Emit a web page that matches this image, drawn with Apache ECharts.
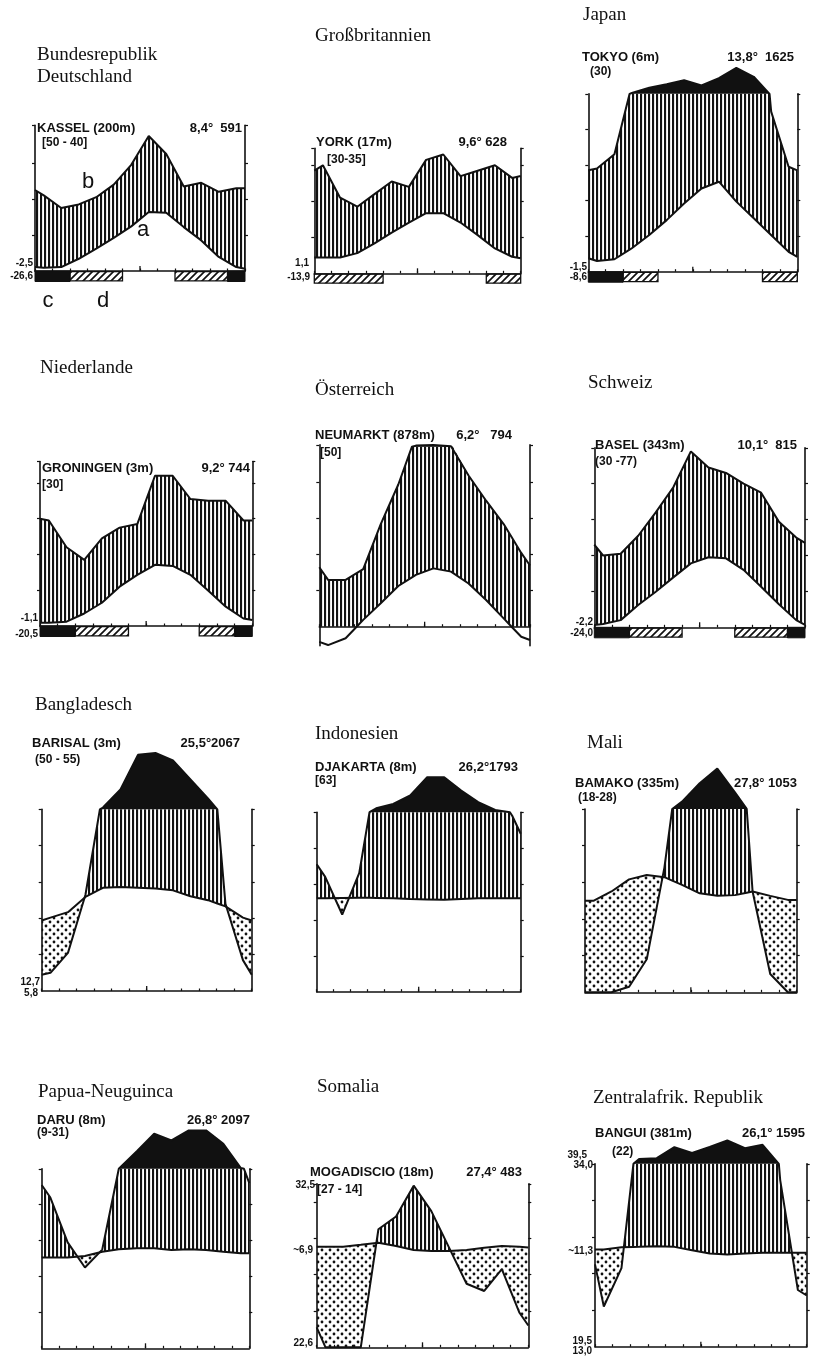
<!DOCTYPE html>
<html><head><meta charset="utf-8">
<script src="https://cdn.jsdelivr.net/npm/echarts@6/dist/echarts.min.js"></script>
<style>html,body{margin:0;padding:0;background:#fff}#c{width:813px;height:1360px}</style>
</head><body><div id="c"></div>
<script>
// ================= DATA (diagram order of months) =================
const countryNames = [["Bundesrepublik","Deutschland"],["Großbritannien"],["Japan"],["Niederlande"],["Österreich"],["Schweiz"],["Bangladesch"],["Indonesien"],["Mali"],["Papua-Neuguinca"],["Somalia"],["Zentralafrik. Republik"]];
const stationNames = ["KASSEL (200m)","YORK (17m)","TOKYO (6m)","GRONINGEN (3m)","NEUMARKT (878m)","BASEL (343m)","BARISAL (3m)","DJAKARTA (8m)","BAMAKO (335m)","DARU (8m)","MOGADISCIO (18m)","BANGUI (381m)"];
const yearSpans = ["[50 - 40]","[30-35]","(30)","[30]","[50]","(30 -77)","(50 - 55)","[63]","(18-28)","(9-31)","[27 - 14]","(22)"];
const annualMeans = ["8,4°","9,6°","13,8°","9,2°","6,2°","10,1°","25,5°","26,2°","27,8°","26,8°","27,4°","26,1°"];
const annualSums = ["591","628","1625","744","794","815","2067","1793","1053","2097","483","1595"];

// temperature (°C) and precipitation (mm) per month; edges = [left, right] ends of the drawn curves
const kasselT = [0.9,1.1,3.4,6.2,9.2,12.4,16.4,16.2,12.2,8.5,3.9,1.1];
const kasselP = [42,35,37,41,48,59,75,65,47,49,44,46];
const kasselTEdge = [1.1,0.6], kasselPEdge = [45,46];
const kasselFrostBlack = [[0,2],[11,12]], kasselFrostHatch = [[2,5],[8,11]];
const kasselSide = ["-2,5","-26,6"];

const yorkT = [4.4,4.4,5.6,8.3,11.3,14.1,16.7,16.7,14.1,10.6,6.9,4.6];
const yorkP = [60,42,37,44,51,48,63,66,54,57,60,53];
const yorkTEdge = [4.4,4.2], yorkPEdge = [57,54];
const yorkFrostBlack = [], yorkFrostHatch = [[0,4],[10,12]];
const yorkSide = ["1,1","-13,9"];

const tokyoT = [3.0,3.5,6.6,10.3,14.5,19.2,23.4,25.3,19.7,15.0,10.3,5.6];
const tokyoP = [58,66,105,134,154,177,147,188,246,196,90,59];
const tokyoTEdge = [3.8,4.2], tokyoPEdge = [57,57];
const tokyoFrostBlack = [[0,2]], tokyoFrostHatch = [[2,4],[10,12]];
const tokyoSide = ["-1,5","-8,6"];

const groningenT = [0.9,1.2,3.5,6.5,11.0,14.3,17.1,16.8,14.3,9.9,5.4,2.1];
const groningenP = [59,44,37,49,55,57,84,84,71,70,70,59];
const groningenTEdge = [0.9,1.7], groningenPEdge = [60,59];
const groningenFrostBlack = [[0,2],[11,12]], groningenFrostHatch = [[2,5],[9,11]];
const groningenSide = ["-1,1","-20,5"];

const neumarktT = [-5.1,-3.2,1.9,6.5,11.3,14.4,16.2,15.3,12.0,7.4,2.3,-2.8];
const neumarktP = [26,26,32,57,79,106,110,102,84,70,57,41];
const neumarktTEdge = [-4.2,-3.7], neumarktPEdge = [33,34];
const neumarktFrostBlack = [], neumarktFrostHatch = [];
const neumarktSide = [];

const baselT = [0.9,2.0,6.2,9.9,13.9,17.8,19.5,19.2,16.0,11.3,6.5,2.0];
const baselP = [40,41,51,64,78,98,89,86,80,75,59,50];
const baselTEdge = [0.65,0.65], baselPEdge = [46,47];
const baselFrostBlack = [[0,2],[11,12]], baselFrostHatch = [[2,5],[8,11]];
const baselSide = ["-2,2","-24,0"];

const barisalT = [20.2,21.7,25.9,28.4,28.6,28.4,28.2,27.7,26.1,25.0,23.3,20.2];
const barisalP = [10,21,53,110,210,400,410,370,265,160,48,17];
const barisalTEdge = [19.4,19.4], barisalPEdge = [9,9];
const barisalFrostBlack = [], barisalFrostHatch = [];
const barisalSide = ["12,7","5,8"];

const djakartaT = [26.0,26.1,26.2,26.1,26.0,25.8,25.7,25.6,25.8,26.0,26.0,26.0];
const djakartaP = [64,43,66,122,146,193,295,295,221,156,113,98];
const djakartaTEdge = [26.0,26.0], djakartaPEdge = [71,88];
const djakartaFrostBlack = [], djakartaFrostHatch = [];
const djakartaSide = [];

const bamakoT = [25.0,27.5,30.8,32.0,31.4,29.3,27.0,26.3,26.5,27.5,26.3,25.2];
const bamakoP = [0,0,3,18,68,140,240,320,190,55,10,0];
const bamakoTEdge = [25.0,25.2], bamakoPEdge = [0,0];
const bamakoFrostBlack = [], bamakoFrostHatch = [];
const bamakoSide = [];

const daruT = [25.3,25.3,25.7,26.9,27.6,27.9,27.9,27.4,27.6,27.4,26.9,26.5];
const daruP = [84,59,45,55,102,198,295,258,314,314,239,105];
const daruTEdge = [25.3,26.5], daruPEdge = [91,92];
const daruFrostBlack = [], daruFrostHatch = [];
const daruSide = [];

const mogadiscioT = [27.7,27.7,28.2,28.8,27.9,26.8,26.5,26.5,26.8,27.4,27.9,27.7];
const mogadiscioP = [0,0,0,65,72,89,75,55,35,31,43,19];
const mogadiscioTEdge = [27.7,27.5], mogadiscioPEdge = [11,12];
const mogadiscioFrostBlack = [], mogadiscioFrostHatch = [];
const mogadiscioSide = ["32,5","~6,9","22,6"];

const banguiT = [26.6,27.2,27.3,27.5,27.3,26.4,25.5,25.2,25.5,25.7,25.7,25.7];
const banguiP = [22,43,127,131,191,160,193,228,186,204,91,31];
const banguiTEdge = [26.6,25.7], banguiPEdge = [45,28];
const banguiFrostBlack = [], banguiFrostHatch = [];
const banguiSide = ["39,5","34,0","~11,3","19,5","13,0"];

const kasselLetters = ["b","a","c","d"];

const stations = [
 {T:kasselT,P:kasselP,Te:kasselTEdge,Pe:kasselPEdge,fb:kasselFrostBlack,fh:kasselFrostHatch,side:kasselSide},
 {T:yorkT,P:yorkP,Te:yorkTEdge,Pe:yorkPEdge,fb:yorkFrostBlack,fh:yorkFrostHatch,side:yorkSide},
 {T:tokyoT,P:tokyoP,Te:tokyoTEdge,Pe:tokyoPEdge,fb:tokyoFrostBlack,fh:tokyoFrostHatch,side:tokyoSide},
 {T:groningenT,P:groningenP,Te:groningenTEdge,Pe:groningenPEdge,fb:groningenFrostBlack,fh:groningenFrostHatch,side:groningenSide},
 {T:neumarktT,P:neumarktP,Te:neumarktTEdge,Pe:neumarktPEdge,fb:neumarktFrostBlack,fh:neumarktFrostHatch,side:neumarktSide},
 {T:baselT,P:baselP,Te:baselTEdge,Pe:baselPEdge,fb:baselFrostBlack,fh:baselFrostHatch,side:baselSide},
 {T:barisalT,P:barisalP,Te:barisalTEdge,Pe:barisalPEdge,fb:barisalFrostBlack,fh:barisalFrostHatch,side:barisalSide},
 {T:djakartaT,P:djakartaP,Te:djakartaTEdge,Pe:djakartaPEdge,fb:djakartaFrostBlack,fh:djakartaFrostHatch,side:djakartaSide},
 {T:bamakoT,P:bamakoP,Te:bamakoTEdge,Pe:bamakoPEdge,fb:bamakoFrostBlack,fh:bamakoFrostHatch,side:bamakoSide},
 {T:daruT,P:daruP,Te:daruTEdge,Pe:daruPEdge,fb:daruFrostBlack,fh:daruFrostHatch,side:daruSide},
 {T:mogadiscioT,P:mogadiscioP,Te:mogadiscioTEdge,Pe:mogadiscioPEdge,fb:mogadiscioFrostBlack,fh:mogadiscioFrostHatch,side:mogadiscioSide},
 {T:banguiT,P:banguiP,Te:banguiTEdge,Pe:banguiPEdge,fb:banguiFrostBlack,fh:banguiFrostHatch,side:banguiSide}
];

// ================= LAYOUT (pixels) =================
const panels = [
 {x0:35,x1:245,y0:271,k:3.6,ymin:0,ymax:40.5,title:[37,55],st:[37,128],yrs:[42,143],rt:[242,128],sep:"  ",side:[[33,263],[33,276]],letters:[[88,182],[143,230],[48,301],[103,301]]},
 {x0:314.3,x1:520.7,y0:273.3,k:3.6,ymin:0,ymax:34.7,title:[315,36],st:[316,142],yrs:[327,160],rt:[507,142],sep:" ",side:[[309,263],[310,277]]},
 {x0:588.3,x1:797.3,y0:271.7,k:3.557,ymin:0,ymax:50,title:[583,15],st:[582,57],yrs:[590,72],rt:[794,57],sep:"  ",side:[[587,267],[587,277]]},
 {x0:40,x1:252.3,y0:626,k:3.577,ymin:0,ymax:46,title:[40,368],st:[42,468],yrs:[42,485],rt:[250,468],sep:" ",side:[[38,618],[38,634]]},
 {x0:319.3,x1:530,y0:626.7,k:3.6,ymin:-5.3,ymax:50.5,title:[315,390],st:[315,435],yrs:[320,453],rt:[512,435],sep:"   ",side:[]},
 {x0:594.3,x1:805,y0:627.3,k:3.59,ymin:0,ymax:50,title:[588,383],st:[595,445],yrs:[595,462],rt:[797,445],sep:"  ",side:[[593,622],[593,633]]},
 {x0:41.7,x1:251.7,y0:991,k:3.633,ymin:0,ymax:50,title:[35,705],st:[32,743],yrs:[35,760],rt:[240,743],sep:"",side:[[40,982],[38,993]]},
 {x0:316.7,x1:520.7,y0:991.7,k:3.59,ymin:0,ymax:50,title:[315,734],st:[315,767],yrs:[315,781],rt:[518,767],sep:"",side:[]},
 {x0:585,x1:796.7,y0:992.3,k:3.667,ymin:0,ymax:50,title:[587,743],st:[575,783],yrs:[578,798],rt:[797,783],sep:" ",side:[]},
 {x0:41.7,x1:249.3,y0:1348.3,k:3.59,ymin:0,ymax:50,title:[38,1092],st:[37,1120],yrs:[37,1133],rt:[250,1120],sep:" ",side:[]},
 {x0:316.7,x1:528.3,y0:1347.3,k:3.633,ymin:0,ymax:45,title:[317,1087],st:[310,1172],yrs:[317,1190],rt:[522,1172],sep:" ",side:[[315,1185],[313,1250],[313,1343]]},
 {x0:595,x1:806.7,y0:1346.7,k:3.657,ymin:0,ymax:50,title:[593,1098],st:[595,1133],yrs:[612,1152],rt:[805,1133],sep:" ",side:[[587,1155],[593,1165],[593,1251],[592,1341],[592,1351]]}
];

// ================= PATTERNS =================
function makePattern(w,h,draw){const cv=document.createElement('canvas');cv.width=w;cv.height=h;draw(cv.getContext('2d'));return {image:cv,repeat:'repeat'};}
const hatchV = makePattern(4,4,c=>{c.fillStyle='#111';c.fillRect(0,0,2.1,4);});
const dotPat = makePattern(8,8,c=>{c.fillStyle='#111';[[2,2],[6,6]].forEach(([x,y])=>{c.beginPath();c.arc(x,y,1.4,0,Math.PI*2);c.fill();});});
const diagPat = makePattern(7,7,c=>{c.strokeStyle='#111';c.lineWidth=1.7;c.beginPath();c.moveTo(-1,8);c.lineTo(8,-1);c.moveTo(-1,1);c.lineTo(1,-1);c.moveTo(6,8);c.lineTo(8,6);c.stroke();});

// ================= GEOMETRY HELPERS =================
const precY = p => p <= 100 ? p/2 : 50 + (p-100)/20;   // Walter-Lieth: 10°C = 20 mm, above 100 mm 1:10
function buildPoints(T,P,Te,Pe){
  const xs=[0],ts=[Te[0]],ps=[Pe[0]];
  for(let i=0;i<12;i++){xs.push(i+0.5);ts.push(T[i]);ps.push(P[i]);}
  xs.push(12);ts.push(Te[1]);ps.push(Pe[1]);
  const pts=[];
  for(let j=0;j<xs.length;j++){
    if(j>0){
      const a={x:xs[j-1],t:ts[j-1],p:ps[j-1]}, b={x:xs[j],t:ts[j],p:ps[j]};
      const cuts=[];
      if((a.p-100)*(b.p-100)<0) cuts.push({f:(100-a.p)/(b.p-a.p),p100:true});
      if(a.t*b.t<0) cuts.push({f:a.t/(a.t-b.t)});
      cuts.sort((u,v)=>u.f-v.f).forEach(c=>pts.push({x:a.x+c.f*(b.x-a.x),t:a.t+c.f*(b.t-a.t),p:c.p100?100:a.p+c.f*(b.p-a.p)}));
    }
    pts.push({x:xs[j],t:ts[j],p:ps[j]});
  }
  return pts;
}
function regions(pts,up,lo){
  const polys=[];let cur=null;
  const push=(x,u,l)=>{if(!cur)cur={U:[],L:[]};cur.U.push([x,u]);cur.L.push([x,l]);};
  const close=()=>{if(cur&&cur.U.length>1)polys.push(cur.U.concat(cur.L.slice().reverse()));cur=null;};
  for(let j=0;j<pts.length;j++){
    const x=pts[j].x,u=up(pts[j]),l=lo(pts[j]),d=u-l;
    let xp,u0,l0,dp;
    if(j>0){xp=pts[j-1].x;u0=up(pts[j-1]);l0=lo(pts[j-1]);dp=u0-l0;
      if((dp>0&&d<0)||(dp<0&&d>0)){const f=dp/(dp-d);const xc=xp+f*(x-xp),yc=u0+f*(u-u0);push(xc,yc,yc);if(dp>0)close();}
    }
    if(d>1e-9){if(!cur&&j>0&&Math.abs(dp)<=1e-9)push(xp,u0,l0);push(x,u,l);}
    else{if(cur){push(x,u,l);close();}}
  }
  close();return polys;
}

// ================= OPTION =================
const option={animation:false,grid:[],xAxis:[],yAxis:[],series:[],graphic:[]};
function txt(s,x,y,font,align){option.graphic.push({type:'text',x,y,silent:true,z:50,style:{text:s,font,fill:'#111',align:align||'left',verticalAlign:'middle',textAlign:align||'left',textVerticalAlign:'middle'}});}
const FT="19px 'Liberation Serif', serif", FS="bold 13px 'Liberation Sans', sans-serif", FY="bold 12px 'Liberation Sans', sans-serif", FN="bold 10px 'Liberation Sans', sans-serif";

panels.forEach((L,i)=>{
  const st=stations[i];
  const top=L.y0-L.ymax*L.k, height=(L.ymax-L.ymin)*L.k;
  option.grid.push({left:L.x0,top:top,width:L.x1-L.x0,height:height,show:false});
  option.xAxis.push({type:'value',gridIndex:i,min:0,max:12,interval:1,
    axisLine:{show:true,onZero:true,lineStyle:{color:'#111',width:1.6}},
    axisTick:{show:true,inside:true,length:2.5,lineStyle:{color:'#111',width:1.2}},
    axisLabel:{show:false},splitLine:{show:false}});
  const yt=[10,20,30,40,50].filter(v=>v<L.ymax-1).concat([L.ymax]);
  ['left','right'].forEach(pos=>option.yAxis.push({type:'value',gridIndex:i,position:pos,min:L.ymin,max:L.ymax,
    axisLine:{show:true,onZero:false,lineStyle:{color:'#111',width:1.6}},
    axisTick:{show:true,customValues:yt,length:3,inside:false,lineStyle:{color:'#111',width:1.2}},
    axisLabel:{show:false},splitLine:{show:false}}));

  const pts=buildPoints(st.T,st.P,st.Te,st.Pe);
  const humid=regions(pts,q=>Math.min(precY(q.p),50),q=>Math.max(q.t,0));
  const arid=regions(pts,q=>q.t,q=>precY(q.p));
  const wet=regions(pts,q=>precY(q.p),q=>50);

  option.series.push({type:'custom',xAxisIndex:i,yAxisIndex:i*2,data:[[0,0]],silent:true,z:1,clip:false,
    renderItem:(params,api)=>{
      const ch=[];
      const poly=(pl,fill)=>ch.push({type:'polygon',shape:{points:pl.map(p=>api.coord(p))},style:{fill:fill,stroke:null}});
      humid.forEach(p=>poly(p,hatchV));
      arid.forEach(p=>poly(p,dotPat));
      wet.forEach(p=>poly(p,'#111'));
      const m=api.coord([6,0]);
      ch.push({type:'line',shape:{x1:m[0],y1:m[1],x2:m[0],y2:m[1]-5},style:{stroke:'#111',lineWidth:1.3}});
      const bh=10.5;
      st.fb.forEach(r=>{const a=api.coord([r[0],0]),b=api.coord([r[1],0]);ch.push({type:'rect',shape:{x:a[0],y:a[1],width:b[0]-a[0],height:bh},style:{fill:'#111',stroke:'#111',lineWidth:1}});});
      st.fh.forEach(r=>{const a=api.coord([r[0],0]),b=api.coord([r[1],0]);ch.push({type:'rect',shape:{x:a[0],y:a[1]+0.6,width:b[0]-a[0],height:bh-1.2},style:{fill:diagPat,stroke:'#111',lineWidth:1.3}});});
      return {type:'group',children:ch};
    }});
  option.series.push({type:'line',xAxisIndex:i,yAxisIndex:i*2,data:pts.map(q=>[q.x,q.t]),symbol:'none',clip:false,silent:true,z:3,
    lineStyle:{color:'#111',width:2}});
  option.series.push({type:'line',xAxisIndex:i,yAxisIndex:i*2,data:pts.map(q=>[q.x,precY(q.p)]),symbol:'none',clip:false,silent:true,z:3,
    lineStyle:{color:'#111',width:2}});

  // texts
  countryNames[i].forEach((s,j)=>txt(s,L.title[0],L.title[1]+j*22,FT));
  txt(stationNames[i],L.st[0],L.st[1],FS);
  txt(yearSpans[i],L.yrs[0],L.yrs[1],FY);
  txt(annualMeans[i]+L.sep+annualSums[i],L.rt[0],L.rt[1],FS,'right');
  st.side.forEach((s,j)=>txt(s,L.side[j][0],L.side[j][1],FN,'right'));
  if(L.letters) kasselLetters.forEach((s,j)=>txt(s,L.letters[j][0],L.letters[j][1],"22px 'Liberation Sans', sans-serif",'center'));
});

const chart=echarts.init(document.getElementById('c'),null,{renderer:'canvas'});
chart.setOption(option);
</script>
</body></html>
